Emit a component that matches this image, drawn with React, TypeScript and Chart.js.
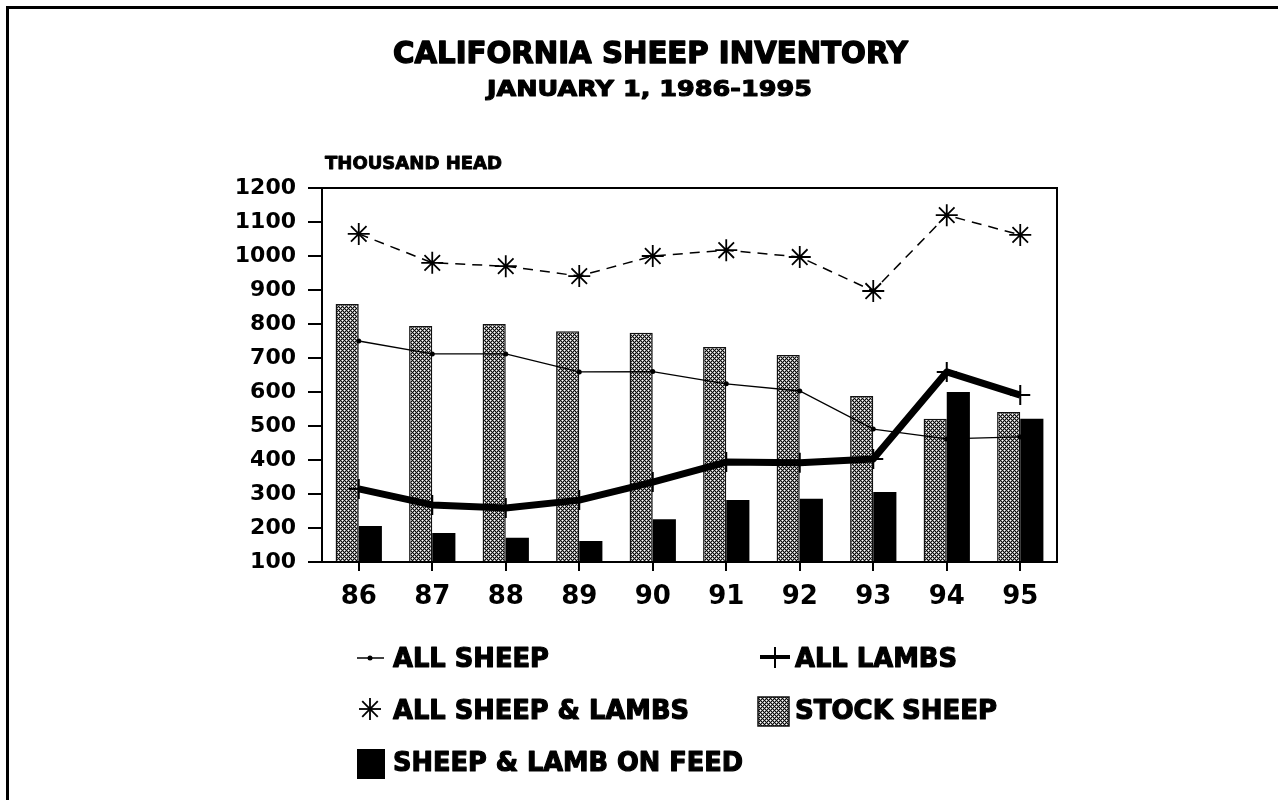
import React, { useEffect, useRef } from "react";
import { Chart, registerables } from "chart.js";

Chart.register(...registerables);

const categories = ["86", "87", "88", "89", "90", "91", "92", "93", "94", "95"];
const allSheep = [750, 712, 712, 659, 660, 624, 603, 491, 462, 468];
const allLambs = [315, 268, 259, 282, 335, 394, 392, 403, 659, 591];
const allSheepAndLambs = [1065, 980, 970, 941, 1000, 1017, 997, 897, 1120, 1062];
const stockSheep = [859, 794, 800, 779, 774, 732, 709, 588, 521, 541];
const onFeed = [206, 185, 171, 162, 226, 282, 286, 306, 600, 521];
const yMin = 100;
const yMax = 1200;
const yStep = 100;
const titleText = "CALIFORNIA SHEEP INVENTORY";
const subtitleText = "JANUARY 1, 1986-1995";
const unitText = "THOUSAND HEAD";
const legendAllSheep = "ALL SHEEP";
const legendAllLambs = "ALL LAMBS";
const legendAllSheepLambs = "ALL SHEEP & LAMBS";
const legendStock = "STOCK SHEEP";
const legendFeed = "SHEEP & LAMB ON FEED";

const FONT = '"DejaVu Sans", "Liberation Sans", sans-serif';

function makePattern(): CanvasPattern | string {
  const tile = document.createElement("canvas");
  tile.width = 4;
  tile.height = 4;
  const c = tile.getContext("2d");
  if (!c) return "#666";
  const img = c.createImageData(4, 4);
  for (let y = 0; y < 4; y++) {
    for (let x = 0; x < 4; x++) {
      const black = (x + y) % 4 === 0 || (x - y + 4) % 4 === 0;
      const center = (x === 2 && y === 0) || (x === 0 && y === 2);
      const i = (y * 4 + x) * 4;
      const v = black ? 10 : center ? 255 : 150;
      img.data[i] = v;
      img.data[i + 1] = v;
      img.data[i + 2] = v;
      img.data[i + 3] = 255;
    }
  }
  c.putImageData(img, 0, 0);
  const p = c.createPattern(tile, "repeat");
  return p || "#666";
}

function fitText(
  ctx: CanvasRenderingContext2D,
  text: string,
  left: number,
  cy: number,
  width: number,
  size: number,
  stroke = 1
) {
  ctx.save();
  ctx.font = `bold ${size}px ${FONT}`;
  const m = ctx.measureText(text).width;
  ctx.translate(left, cy);
  ctx.scale(width / m, 1);
  ctx.textAlign = "left";
  ctx.textBaseline = "middle";
  ctx.fillStyle = "#000";
  ctx.fillText(text, 0, 0);
  if (stroke > 0) {
    ctx.lineWidth = stroke;
    ctx.strokeStyle = "#000";
    ctx.lineJoin = "round";
    ctx.strokeText(text, 0, 0);
  }
  ctx.restore();
}

export default function App() {
  const ref = useRef<HTMLCanvasElement | null>(null);

  useEffect(() => {
    if (!ref.current) return;
    const pattern = makePattern();

    const decor = {
      id: "decor",
      afterDraw(chart: any) {
        const ctx: CanvasRenderingContext2D = chart.ctx;
        const a = chart.chartArea;
        ctx.save();
        ctx.strokeStyle = "#000";
        ctx.lineWidth = 2;
        ctx.strokeRect(a.left, a.top, a.right - a.left, a.bottom - a.top);
        ctx.fillStyle = "#000";
        ctx.fillRect(6, 6, 1272, 3);
        ctx.fillRect(6, 6, 3, 794);
        ctx.restore();

        fitText(ctx, titleText, 393, 55, 515, 30, 1.4);
        fitText(ctx, subtitleText, 487, 90, 325, 22, 1.1);
        fitText(ctx, unitText, 325, 164, 177, 18, 0.9);

        fitText(ctx, legendAllSheep, 393, 660, 156, 27, 1.2);
        fitText(ctx, legendAllLambs, 795, 660, 162, 27, 1.2);
        fitText(ctx, legendAllSheepLambs, 393, 712, 296, 27, 1.2);
        fitText(ctx, legendStock, 795, 712, 202, 27, 1.2);
        fitText(ctx, legendFeed, 393, 764, 350, 27, 1.2);

        ctx.save();
        ctx.strokeStyle = "#000";
        ctx.fillStyle = "#000";
        ctx.lineWidth = 1.5;
        ctx.beginPath();
        ctx.moveTo(357, 658);
        ctx.lineTo(384, 658);
        ctx.stroke();
        ctx.beginPath();
        ctx.arc(370, 658, 2.5, 0, Math.PI * 2);
        ctx.fill();
        ctx.lineWidth = 4;
        ctx.beginPath();
        ctx.moveTo(760, 657);
        ctx.lineTo(790, 657);
        ctx.stroke();
        ctx.lineWidth = 2;
        ctx.beginPath();
        ctx.moveTo(775, 647);
        ctx.lineTo(775, 668);
        ctx.stroke();
        ctx.lineWidth = 1.8;
        const cx = 370, cy = 709, r = 11;
        for (let k = 0; k < 4; k++) {
          const ang = (k * Math.PI) / 4;
          ctx.beginPath();
          ctx.moveTo(cx - r * Math.cos(ang), cy - r * Math.sin(ang));
          ctx.lineTo(cx + r * Math.cos(ang), cy + r * Math.sin(ang));
          ctx.stroke();
        }
        ctx.fillStyle = pattern as any;
        ctx.fillRect(758, 697, 31, 29);
        ctx.lineWidth = 1.5;
        ctx.strokeStyle = "#111";
        ctx.strokeRect(758, 697, 31, 29);
        ctx.fillStyle = "#000";
        ctx.fillRect(357, 749, 28, 30);
        ctx.restore();
      },
    };

    const chart = new Chart(ref.current, {
      type: "bar",
      data: {
        labels: categories,
        datasets: [
          {
            type: "bar",
            label: legendStock,
            data: stockSheep,
            backgroundColor: pattern as any,
            borderColor: "#111",
            borderWidth: 1.5,
            categoryPercentage: 0.63,
            barPercentage: 1,
            order: 3,
          },
          {
            type: "bar",
            label: legendFeed,
            data: onFeed,
            backgroundColor: "#000",
            borderWidth: 0,
            categoryPercentage: 0.63,
            barPercentage: 1,
            order: 3,
          },
          {
            type: "line",
            label: legendAllSheep,
            data: allSheep,
            borderColor: "#000",
            borderWidth: 1.3,
            pointStyle: "circle",
            pointRadius: 2.5,
            pointBackgroundColor: "#000",
            pointBorderColor: "#000",
            pointBorderWidth: 0,
            tension: 0,
            order: 1,
          },
          {
            type: "line",
            label: legendAllLambs,
            data: allLambs,
            borderColor: "#000",
            borderWidth: 7,
            borderJoinStyle: "round",
            pointStyle: "cross",
            pointRadius: 10,
            pointBorderWidth: 2,
            pointBorderColor: "#000",
            tension: 0,
            order: 1,
          },
          {
            type: "line",
            label: legendAllSheepLambs,
            data: allSheepAndLambs,
            borderColor: "#000",
            borderWidth: 1.5,
            borderDash: [10, 7],
            pointStyle: "star",
            pointRadius: 11,
            pointBorderWidth: 1.8,
            pointBorderColor: "#000",
            pointBackgroundColor: "#000",
            tension: 0,
            order: 1,
          },
        ] as any,
      },
      options: {
        responsive: false,
        animation: false,
        events: [],
        layout: { padding: { left: 0, top: 188, right: 221, bottom: 0 } },
        plugins: {
          legend: { display: false },
          title: { display: false },
          tooltip: { enabled: false },
        },
        scales: {
          x: {
            offset: true,
            grid: {
              offset: false,
              drawOnChartArea: false,
              drawTicks: true,
              tickLength: 9,
              color: "#000",
              lineWidth: 2,
            },
            border: { display: true, color: "#000", width: 2 },
            ticks: {
              color: "#000",
              padding: 11,
              font: { family: FONT, weight: "bold", size: 26 },
              maxRotation: 0,
            },
            afterFit: (s: any) => {
              s.height = 238;
            },
          },
          y: {
            min: yMin,
            max: yMax,
            grid: {
              drawOnChartArea: false,
              drawTicks: true,
              tickLength: 14,
              color: "#000",
              lineWidth: 2,
            },
            border: { display: true, color: "#000", width: 2 },
            ticks: {
              stepSize: yStep,
              color: "#000",
              padding: 12,
              font: { family: FONT, weight: "bold", size: 22 },
              callback: (v: any) => String(v),
            },
            afterFit: (s: any) => {
              s.width = 322;
            },
          },
        },
      } as any,
      plugins: [decor],
    });

    return () => chart.destroy();
  }, []);

  return (
    <div style={{ position: "absolute", left: 0, top: 0, width: 1278, height: 800, background: "#fff" }}>
      <canvas ref={ref} width={1278} height={800} style={{ display: "block" }} />
    </div>
  );
}
